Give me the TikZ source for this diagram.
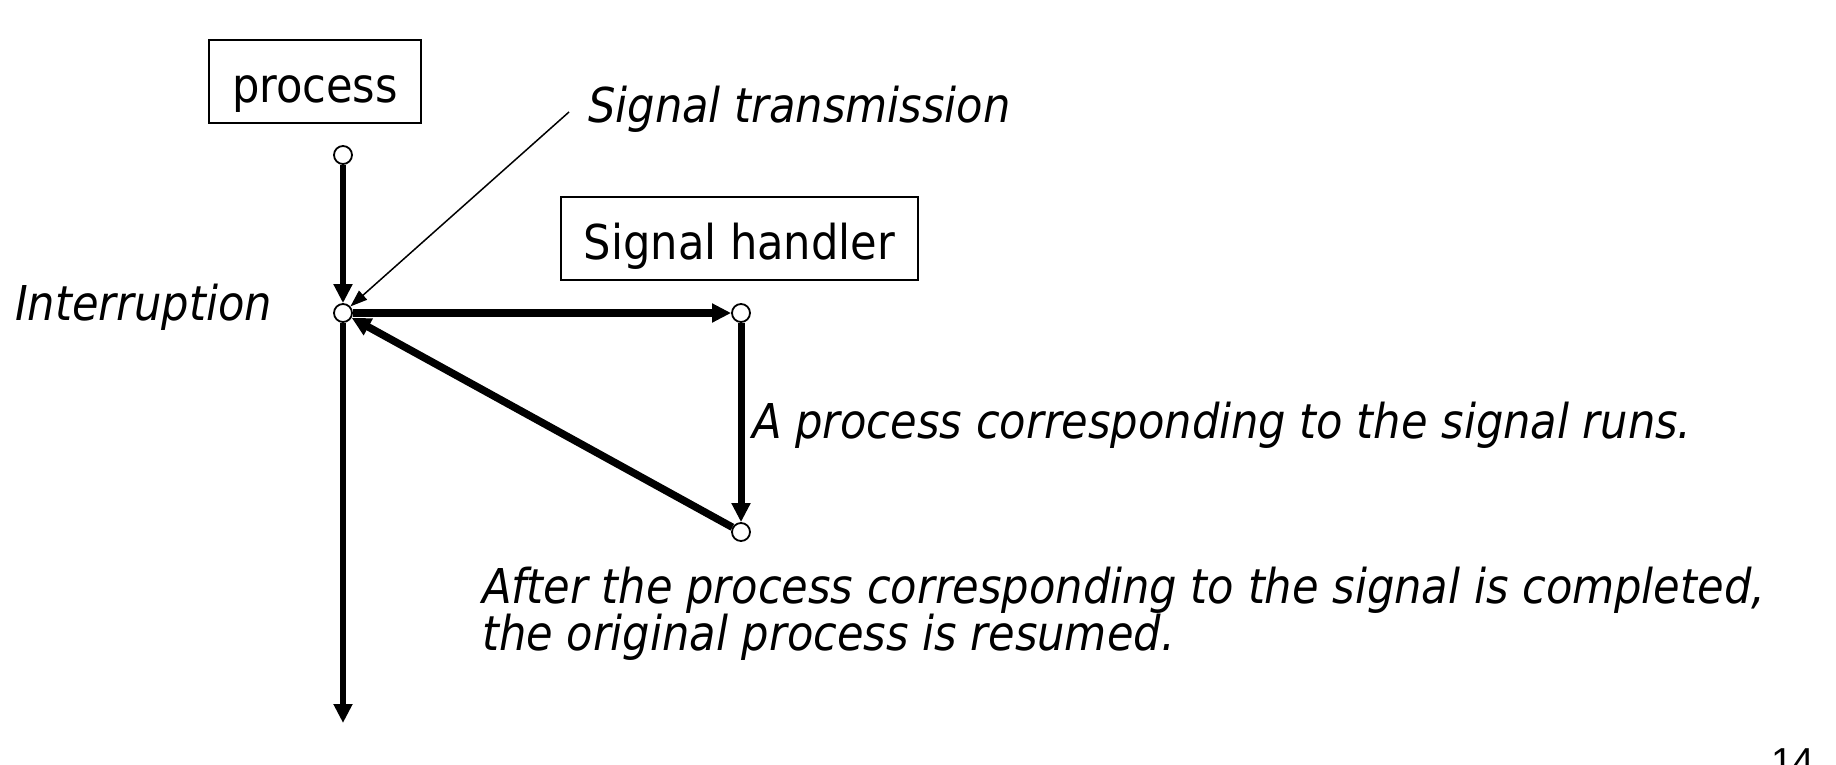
\documentclass[tikz,border=0pt]{standalone}
\usepackage{fontspec}
\IfFontExistsTF{DejaVu Sans Condensed}
  {\setmainfont{DejaVu Sans Condensed}}
  {\setmainfont{DejaVu Sans}[FakeStretch=0.88]}
\newfontfamily\pagefont{Liberation Sans}
\usetikzlibrary{arrows.meta,positioning}

\begin{document}
\begin{tikzpicture}[x=1pt, y=-1pt,
    font=\fontsize{48}{47}\selectfont,
    box/.style={draw, line width=1.3pt, text height=41pt, text depth=0pt,
      inner ysep=21pt, inner xsep=0pt, anchor=base},
    dot/.style={circle, draw, fill=white, line width=1.8pt,
      minimum size=18pt, inner sep=0pt},
    flow/.style={line width=#1, -{Triangle[length=19pt,width=18pt]}},
    flow/.default=6.5pt,
    pointer/.style={line width=1.5pt, -{Triangle[length=17pt,width=12pt]}},
    note/.style={font=\fontsize{48}{47}\selectfont\itshape,
      anchor=base west, inner sep=0pt, align=left}
  ]
  \useasboundingbox (0,0) rectangle (1836,764);

  % boxes
  \node [box, minimum width=212pt] (proc) at (315,102) {process};
  \node [box, minimum width=357pt] (handler) at (739.5,259) {Signal handler};

  % points on the time lines
  \node [dot] (p0) at (343,155) {};
  \node [dot] (p1) at (343,313) {};
  \node [dot] (h0) at (741,313) {};
  \node [dot] (h1) at (741,532) {};
  \coordinate (bot) at (343,723);
  \coordinate (txsrc) at (569,112);

  % flow of control
  \draw [flow] (p0) -- (p1);
  \draw [flow=7.5pt] (p1) -- (h0);
  \draw [flow=7pt] (h0) -- (h1);
  \draw [flow=7.5pt] (h1) -- (p1);
  \draw [flow] (p1) -- (bot);
  \draw [pointer] (txsrc) -- (p1);

  % labels (base of a two-line note is its last line)
  \node [note] (intr) at (15,320) {Interruption};
  \node [note] (tx) at (588,122) {Signal transmission};
  \node [note] (runs) at (752,438) {A process corresponding to the signal runs.};
  \node [note] (resume) at (482,650) {After the process corresponding to the signal is completed,\\the original process is resumed.};
  \node [anchor=base west, inner sep=0pt, font=\pagefont\fontsize{39}{39}\selectfont] (page) at (1771,775) {14};
\end{tikzpicture}
\end{document}
